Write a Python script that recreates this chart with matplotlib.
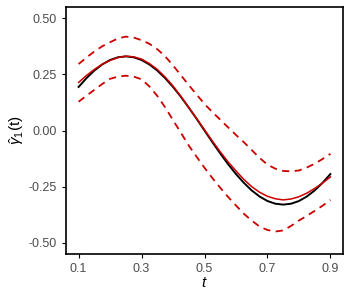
import matplotlib
matplotlib.use('Agg')
import matplotlib.pyplot as plt

# values
t = [0.100, 0.125, 0.150, 0.175, 0.200, 0.225, 0.250, 0.275, 0.300,
     0.325, 0.350, 0.375, 0.400, 0.425, 0.450, 0.475, 0.500, 0.525,
     0.550, 0.575, 0.600, 0.625, 0.650, 0.675, 0.700, 0.725, 0.750,
     0.775, 0.800, 0.825, 0.850, 0.875, 0.900]
true_curve = [0.194, 0.233, 0.267, 0.294, 0.314, 0.326, 0.330, 0.326, 0.314,
              0.294, 0.267, 0.233, 0.194, 0.150, 0.102, 0.052, 0.000, -0.052,
              -0.102, -0.150, -0.194, -0.233, -0.267, -0.294, -0.314, -0.326, -0.330,
              -0.326, -0.314, -0.294, -0.267, -0.233, -0.194]
estimate = [0.214, 0.245, 0.272, 0.295, 0.312, 0.325, 0.331, 0.328, 0.318,
            0.298, 0.272, 0.238, 0.198, 0.152, 0.102, 0.053, 0.003, -0.047,
            -0.095, -0.140, -0.180, -0.218, -0.250, -0.275, -0.293, -0.304, -0.309,
            -0.305, -0.295, -0.279, -0.258, -0.234, -0.207]
upper = [0.296, 0.325, 0.352, 0.375, 0.393, 0.410, 0.418, 0.414, 0.402,
         0.386, 0.362, 0.330, 0.290, 0.246, 0.202, 0.160, 0.118, 0.082,
         0.048, 0.014, -0.020, -0.052, -0.087, -0.122, -0.152, -0.170, -0.180,
         -0.182, -0.178, -0.165, -0.148, -0.127, -0.104]
lower = [0.128, 0.155, 0.181, 0.207, 0.230, 0.240, 0.244, 0.240, 0.228,
         0.196, 0.154, 0.103, 0.046, -0.010, -0.067, -0.117, -0.166, -0.212,
         -0.255, -0.296, -0.334, -0.371, -0.401, -0.428, -0.443, -0.450, -0.445,
         -0.425, -0.401, -0.380, -0.358, -0.335, -0.309]

x_ticks = [0.1, 0.3, 0.5, 0.7, 0.9]
y_ticks = [-0.50, -0.25, 0.00, 0.25, 0.50]

plt.rcParams['font.family'] = ['Liberation Sans', 'DejaVu Sans']
plt.rcParams['mathtext.fontset'] = 'custom'
plt.rcParams['mathtext.rm'] = 'Liberation Sans'
plt.rcParams['mathtext.it'] = 'Liberation Sans:italic'

fig = plt.figure(figsize=(3.5, 3.0), dpi=100)
ax = fig.add_axes([0.1886, 0.1533, 0.7914, 0.8234])

red = '#CD0000'
ax.plot(t, upper, color=red, lw=1.3, dashes=(4, 3))
ax.plot(t, lower, color=red, lw=1.3, dashes=(4, 3))
ax.plot(t, true_curve, color='black', lw=1.4)
ax.plot(t, estimate, color=red, lw=1.1)

ax.set_xlim(0.06, 0.94)
ax.set_ylim(-0.55, 0.55)
ax.set_xticks(x_ticks)
ax.set_xticklabels(['%.1f' % v for v in x_ticks])
ax.set_yticks(y_ticks)
ax.set_yticklabels(['%.2f' % v for v in y_ticks])
ax.tick_params(colors='black', labelcolor='#4D4D4D', labelsize=9,
               length=3, width=0.8, direction='out')
for s in ax.spines.values():
    s.set_color('black')
    s.set_linewidth(1.2)

ax.set_xlabel(r'$t$', fontsize=11, labelpad=1)
ax.set_ylabel(r'$\hat{\gamma}_1\mathrm{(t)}$', fontsize=11, labelpad=2)

fig.savefig('out.png', dpi=100)
